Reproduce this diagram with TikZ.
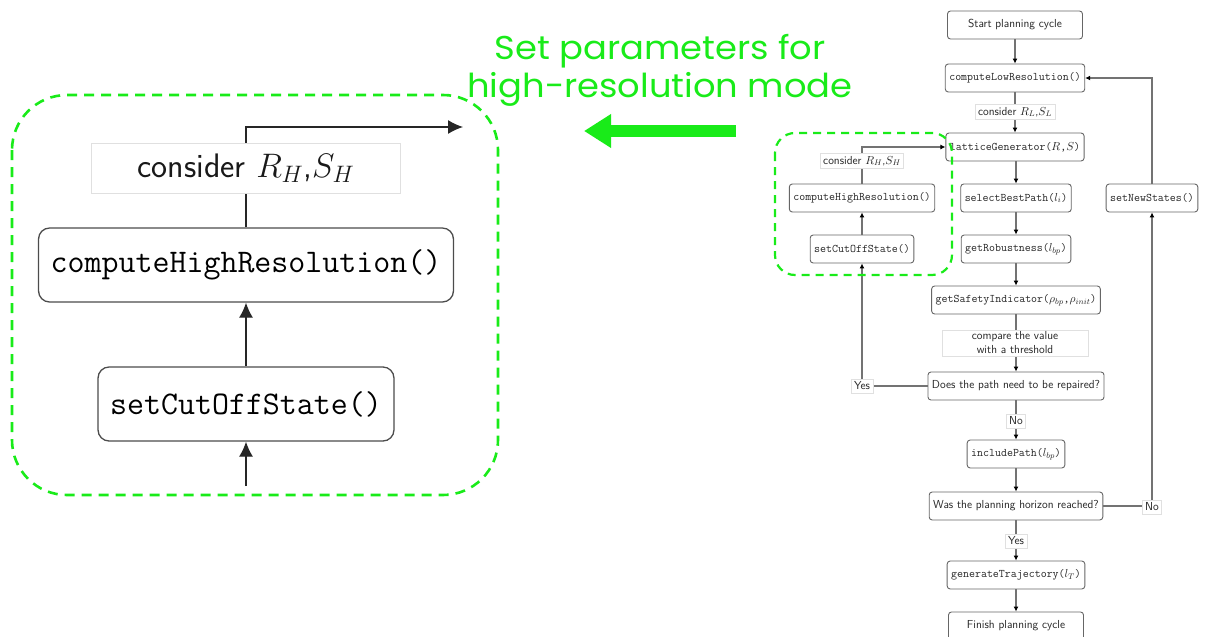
\RequirePackage{fix-cm}
\documentclass[tikz,border=0pt]{standalone}
\usepackage{fontspec}
\newfontfamily\headfont[FakeStretch=1.07]{Poppins}
\usetikzlibrary{arrows.meta}
\definecolor{hlgreen}{RGB}{25,235,25}
\begin{document}
\begin{tikzpicture}[x=1pt,y=-1pt,
  flow/.style={draw=black!60, rounded corners=3pt, fill=white, line width=0.9pt,
    inner xsep=4pt, minimum height=28pt, text=black!85,
    font=\fontsize{11.6}{14}\selectfont\sffamily},
  fn/.style={flow, font=\fontsize{11.6}{14}\selectfont\ttfamily},
  tag/.style={draw=black!12, fill=white, line width=0.8pt, inner sep=3pt, text=black!85,
    font=\fontsize{11.6}{14}\selectfont\sffamily},
  link/.style={draw=black!55, line width=1.1pt},
  arr/.style={link, -{Latex[length=5pt,width=5pt,color=black]}},
  bigbox/.style={draw=black!70, rounded corners=11pt, line width=1.3pt, fill=white,
    inner xsep=12pt, minimum height=74pt, text=black,
    font=\fontsize{33}{38}\selectfont\ttfamily},
  bigtag/.style={draw=black!12, line width=1pt, fill=white, minimum width=309pt,
    minimum height=50pt, text=black!90, font=\fontsize{34}{38}\selectfont\sffamily},
  bigarr/.style={draw=black!85, line width=1.3pt, -{Latex[length=15pt,width=14pt]}},
  hlbox/.style={draw=hlgreen, line width=2.6pt, dash pattern=on 10pt off 7pt},
]
\useasboundingbox (0,0) rectangle (1205,637);

% ---------- planning cycle flowchart ----------
\node[flow, minimum width=135pt] (start) at (1015,25) {Start planning cycle};
\node[fn] (low) at (1015,78) {computeLowResolution()};
\node[fn] (lat) at (1015,147) {latticeGenerator($R$,$S$)};
\node[fn] (sel) at (1016,198) {selectBestPath($l_i$)};
\node[fn] (rob) at (1016,249) {getRobustness($l_{bp}$)};
\node[fn] (saf) at (1016,300) {getSafetyIndicator($\rho_{bp}$,$\rho_{init}$)};
\node[flow] (rep) at (1016,386) {Does the path need to be repaired?};
\node[fn] (inc) at (1016,454) {includePath($l_{bp}$)};
\node[flow] (hor) at (1016,506) {Was the planning horizon reached?};
\node[fn] (gen) at (1016,575) {generateTrajectory($l_T$)};
\node[flow, minimum width=135pt] (fin) at (1016,626) {Finish planning cycle};
\node[fn] (new) at (1152,198) {setNewStates()};
\node[fn] (chr) at (862,198) {computeHighResolution()};
\node[fn] (cut) at (862,249) {setCutOffState()};

\draw[arr] (start) -- (low);
\draw[arr] (low) -- (lat);
\draw[arr] (lat.south -| sel) -- (sel);
\draw[arr] (sel) -- (rob);
\draw[arr] (rob) -- (saf);
\draw[arr] (saf) -- (rep);
\draw[arr] (rep) -- (inc);
\draw[arr] (inc) -- (hor);
\draw[arr] (hor) -- (gen);
\draw[arr] (gen) -- (fin);
\draw[arr] (hor.east) -| (new.south);
\draw[arr] (new.north) |- (low.east);
\draw[arr] (rep.west) -| (cut.south);
\draw[arr] (cut) -- (chr);
\draw[arr] (chr.north) |- (lat.west);

\node[tag] (tL) at (1015,112) {consider $R_L$,$S_L$};
\node[tag, align=center, minimum width=146pt, inner sep=2pt] (cmp) at (1015,343)
  {compare the value\\with a threshold};
\node[tag] (no1) at (1016,421) {No};
\node[tag] (yes2) at (1016,541) {Yes};
\node[tag] (tH) at (862,161) {consider $R_H$,$S_H$};
\node[tag] (yes1) at (862,386) {Yes};
\node[tag] (no2) at (1152,507) {No};

\draw[hlbox, line width=2.2pt, dash pattern=on 8pt off 6pt, rounded corners=20pt]
  (775,133) rectangle (952,275);

% ---------- enlarged high-resolution branch ----------
\node[bigbox] (bchr) at (246,265) {computeHighResolution()};
\node[bigbox] (bcut) at (246,404) {setCutOffState()};
\coordinate (bin) at (246,486);
\coordinate (bout) at (463,127);
\draw[bigarr] (bin) -- (bcut);
\draw[bigarr] (bcut) -- (bchr);
\draw[bigarr] (bchr.north) |- (bout);
\node[bigtag] (btH) at (246,168) {consider $R_H$,$S_H$};

\draw[hlbox, rounded corners=55pt] (12,95) rectangle (498,495);

% ---------- caption and pointer ----------
\node[text=hlgreen, align=center, font=\headfont\fontsize{33}{38}\selectfont]
  (cap) at (660,70) {Set parameters for\\high-resolution mode};
\coordinate (gs) at (736,131);
\coordinate (ge) at (584,131);
\draw[hlgreen, line width=12pt, -{Triangle[length=27pt,width=32pt]}] (gs) -- (ge);
\end{tikzpicture}
\end{document}
